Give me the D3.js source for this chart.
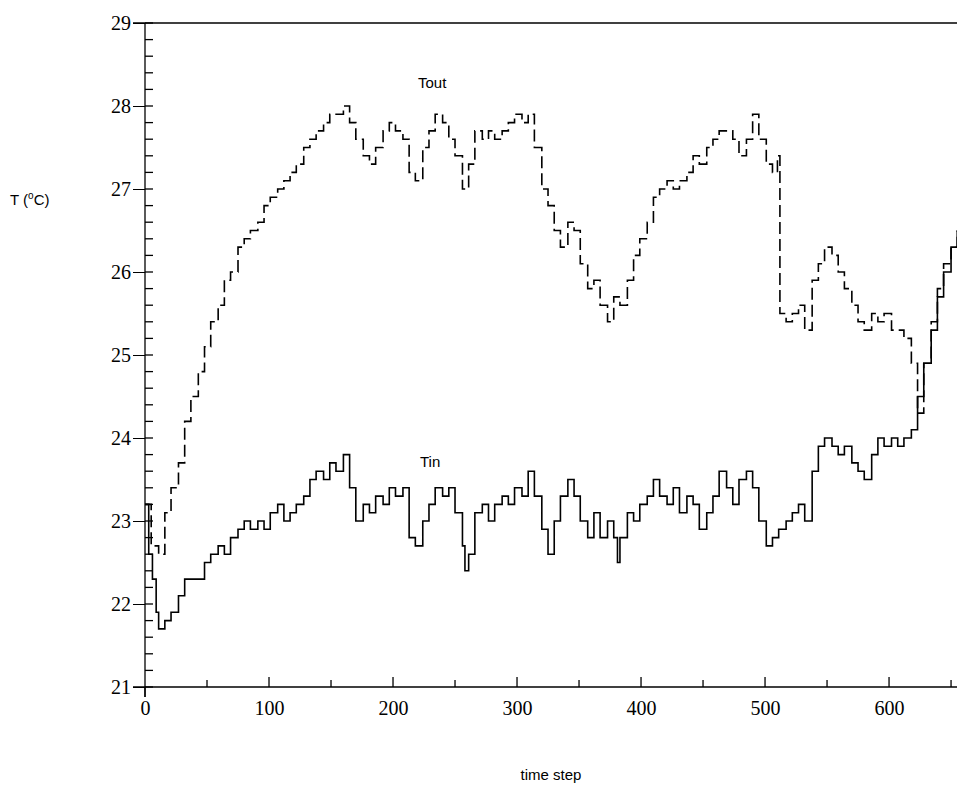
<!doctype html>
<html>
<head>
<meta charset="utf-8">
<title>T vs time step</title>
<script src="https://cdnjs.cloudflare.com/ajax/libs/d3/7.8.5/d3.min.js"></script>
<style>
  body { margin: 0; background: #fff; }
  .tick text { font-family: "Liberation Serif", serif; font-size: 20px; }
  .lbl { font-family: "Liberation Sans", Arial, sans-serif; font-size: 15px; }
</style>
</head>
<body>
<div id="chart"></div>
<script>
// Tout (dashed) - time step, temperature
const toutT = [0,5,11,16,21,27,32,37,43,48,53,59,64,69,75,80,85,91,96,101,107,112,117,122,128,133,138,144,149,154,160,165,170,176,181,186,192,197,202,208,213,218,224,229,234,240,245,250,256,261,266,272,277,282,288,293,298,304,309,314,320,325,330,335,341,346,351,357,362,367,373,378,383,389,394,399,405,410,415,421,426,431,437,442,447,453,458,463,469,474,479,485,490,495,501,506,510,512,517,522,527,532,538,543,548,554,559,564,570,575,580,586,591,596,602,607,612,618,623,628,634,639,644,650,655];
const toutV = [23.2,22.7,22.6,23.1,23.4,23.7,24.2,24.5,24.8,25.1,25.4,25.6,25.9,26.0,26.3,26.4,26.5,26.6,26.8,26.9,27.0,27.1,27.2,27.3,27.5,27.6,27.7,27.8,27.9,27.9,28.0,27.8,27.6,27.4,27.3,27.5,27.7,27.8,27.7,27.6,27.2,27.1,27.5,27.7,27.9,27.8,27.6,27.4,27.0,27.3,27.7,27.6,27.7,27.6,27.7,27.8,27.9,27.8,27.9,27.5,27.0,26.8,26.5,26.3,26.6,26.5,26.1,25.8,25.9,25.6,25.4,25.7,25.6,25.9,26.2,26.4,26.6,26.9,27.0,27.1,27.0,27.1,27.2,27.4,27.3,27.5,27.6,27.7,27.7,27.6,27.4,27.6,27.9,27.6,27.3,27.2,27.4,25.5,25.4,25.5,25.6,25.3,25.9,26.1,26.3,26.2,26.0,25.8,25.6,25.4,25.3,25.5,25.4,25.5,25.3,25.3,25.2,24.9,24.3,24.9,25.4,25.8,26.1,26.3,26.5];
// Tin (solid)
const tinT = [0,3,6,9,11,16,21,27,32,43,48,53,59,64,69,75,80,85,91,96,101,107,112,117,122,128,133,138,144,149,154,160,165,170,176,181,186,192,197,202,208,213,218,224,229,234,240,245,250,256,258,261,266,272,277,282,288,293,298,304,309,314,320,325,330,335,341,346,351,357,362,367,373,378,381,383,389,394,399,405,410,415,421,426,431,437,442,447,453,458,463,469,474,479,485,490,495,501,506,511,517,522,527,532,538,543,548,554,559,564,570,575,580,586,591,596,602,607,612,618,623,628,634,639,644,650,655];
const tinV = [23.2,22.6,22.3,21.9,21.7,21.8,21.9,22.1,22.3,22.3,22.5,22.6,22.7,22.6,22.8,22.9,23.0,22.9,23.0,22.9,23.1,23.2,23.0,23.1,23.2,23.3,23.5,23.6,23.5,23.7,23.6,23.8,23.4,23.0,23.2,23.1,23.3,23.2,23.4,23.3,23.4,22.8,22.7,23.0,23.2,23.4,23.3,23.4,23.1,22.7,22.4,22.6,23.1,23.2,23.0,23.2,23.3,23.2,23.4,23.3,23.6,23.3,22.9,22.6,23.0,23.3,23.5,23.3,23.0,22.8,23.1,22.8,23.0,22.8,22.5,22.8,23.1,23.0,23.2,23.3,23.5,23.3,23.2,23.4,23.1,23.3,23.2,22.9,23.1,23.3,23.6,23.4,23.2,23.5,23.6,23.4,23.0,22.7,22.8,22.9,23.0,23.1,23.2,23.0,23.6,23.9,24.0,23.9,23.8,23.9,23.7,23.6,23.5,23.8,24.0,23.9,24.0,23.9,24.0,24.1,24.5,24.9,25.3,25.7,26.0,26.3,26.5];
const xTicks = [0,100,200,300,400,500,600];
const yTicks = [21,22,23,24,25,26,27,28,29];

const svg = d3.select('#chart').append('svg').attr('width', 957).attr('height', 786);
const x = d3.scaleLinear().domain([0, 654.8]).range([145, 957]);
const y = d3.scaleLinear().domain([21, 29]).range([687, 23]);

// axes
svg.append('g').attr('transform', 'translate(0,687)')
  .call(d3.axisBottom(x).tickValues(xTicks).tickSize(0).tickPadding(14))
  .call(g => g.select('.domain').remove());
svg.append('g').attr('transform', 'translate(145,0)')
  .call(d3.axisLeft(y).tickValues(yTicks).tickSize(12).tickPadding(2))
  .call(g => g.select('.domain').remove());

const ax = svg.append('g').attr('stroke', '#000').attr('stroke-width', 1.3);
ax.append('line').attr('x1', 133).attr('x2', 957).attr('y1', 687).attr('y2', 687);
ax.append('line').attr('x1', 133).attr('x2', 957).attr('y1', 23).attr('y2', 23);
ax.append('line').attr('x1', 145).attr('x2', 145).attr('y1', 23).attr('y2', 697);
d3.range(21, 29.01, 0.2).forEach(v => {
  ax.append('line').attr('x1', 145).attr('x2', 153).attr('y1', y(v)).attr('y2', y(v));
});
d3.range(50, 651, 50).forEach(v => {
  ax.append('line').attr('x1', x(v)).attr('x2', x(v)).attr('y1', 687).attr('y2', v % 100 ? 680 : 677);
});
ax.append('line').attr('x1', 145).attr('x2', 145).attr('y1', 687).attr('y2', 697);

const line = d3.line().x(d => x(d[0])).y(d => y(d[1])).curve(d3.curveStepAfter);
svg.append('path').datum(d3.zip(toutT, toutV)).attr('d', line)
  .attr('fill', 'none').attr('stroke', '#000').attr('stroke-width', 1.6).attr('stroke-dasharray', '12,5');
svg.append('path').datum(d3.zip(tinT, tinV)).attr('d', line)
  .attr('fill', 'none').attr('stroke', '#000').attr('stroke-width', 1.6);

svg.append('text').attr('class', 'lbl').attr('x', 418).attr('y', 88).text('Tout');
svg.append('text').attr('class', 'lbl').attr('x', 420).attr('y', 467).text('Tin');
svg.append('text').attr('class', 'lbl').attr('x', 551).attr('y', 780).attr('text-anchor', 'middle').text('time step');
const tl = svg.append('text').attr('class', 'lbl').attr('x', 10).attr('y', 205);
tl.append('tspan').text('T (');
tl.append('tspan').attr('dy', -6).attr('font-size', 10).text('o');
tl.append('tspan').attr('dy', 6).text('C)');
</script>
</body>
</html>
